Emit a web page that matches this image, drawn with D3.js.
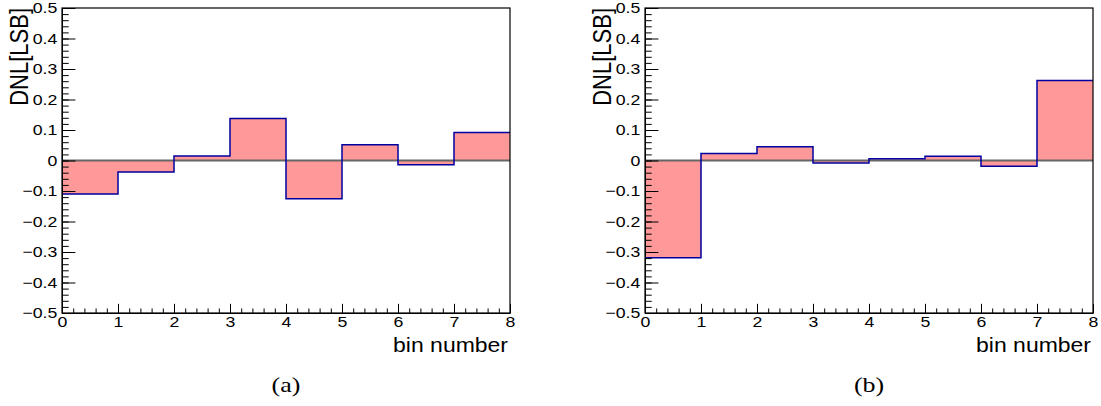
<!DOCTYPE html>
<html>
<head>
<meta charset="utf-8">
<script src="https://cdn.jsdelivr.net/npm/d3@7"></script>
<style>
  body { margin: 0; background: #ffffff; }
  svg { display: block; }
</style>
</head>
<body>
<div id="chart"></div>
<script>
// bins and DNL values
const bins = [0, 1, 2, 3, 4, 5, 6, 7];
const dnlA = [-0.110, -0.038, 0.015, 0.138, -0.125, 0.052, -0.014, 0.092];
const dnlB = [-0.319, 0.023, 0.045, -0.008, 0.006, 0.014, -0.019, 0.262];
const xTicks = [0, 1, 2, 3, 4, 5, 6, 7, 8];
const yTicks = [-0.5, -0.4, -0.3, -0.2, -0.1, 0, 0.1, 0.2, 0.3, 0.4, 0.5];
const panelLabels = ["(a)", "(b)"];

const width = 1101;
const height = 406;
// the original figure was stretched sideways, so its glyphs are wide
const stretch = 1.18;
const sans = "'Liberation Sans', Arial, sans-serif";
const serif = "'Liberation Serif', 'Times New Roman', serif";

const svg = d3.select("#chart")
    .append("svg")
    .attr("width", width)
    .attr("height", height);

// Title Styles the labels of an axis
function styleLabels(a) {
    a.attr("font-family", sans)
        .attr("font-size", 15);
    a.select(".domain").attr("stroke", "#000");
    a.selectAll(".tick text")
        .attr("fill", "#000")
        .style("font-family", sans)
        .style("font-size", "15px")
        .attr("transform", `scale(${stretch},1)`);
}

// Title Draws one DNL histogram panel
function drawPanel(left, values, label) {
    const plotW = 448;
    const top = 8;
    const bottom = 313;

    const x = d3.scaleLinear().domain([0, 8]).range([left, left + plotW]);
    const y = d3.scaleLinear().domain([-0.5, 0.5]).range([bottom, top]);

    const g = svg.append("g");

    // filled bins
    g.selectAll("rect.bin")
        .data(values)
        .enter()
        .append("rect")
        .attr("class", "bin")
        .attr("x", (d, i) => x(bins[i]))
        .attr("width", (d, i) => x(bins[i] + 1) - x(bins[i]))
        .attr("y", d => Math.min(y(d), y(0)))
        .attr("height", d => Math.abs(y(d) - y(0)))
        .attr("fill", "#ff9999");

    // zero line
    g.append("line")
        .attr("x1", x(0))
        .attr("x2", x(8))
        .attr("y1", y(0))
        .attr("y2", y(0))
        .attr("stroke", "#666666")
        .attr("stroke-width", 2);

    // histogram outline
    const pts = bins.map((b, i) => [b, values[i]]);
    pts.push([8, values[values.length - 1]]);

    const line = d3.line()
        .x(d => x(d[0]))
        .y(d => y(d[1]))
        .curve(d3.curveStepAfter);

    g.append("path")
        .attr("d", line(pts))
        .attr("fill", "none")
        .attr("stroke", "#0000a0")
        .attr("stroke-width", 1.5);

    // frame
    g.append("rect")
        .attr("x", x(0))
        .attr("y", top)
        .attr("width", plotW)
        .attr("height", bottom - top)
        .attr("fill", "none")
        .attr("stroke", "#000")
        .attr("stroke-width", 1.2);

    const yTickLen = plotW * 0.03;
    const xTickLen = (bottom - top) * 0.03;

    // y axis, minor then major
    g.append("g")
        .attr("transform", `translate(${x(0)},0)`)
        .call(d3.axisLeft(y)
            .tickValues(d3.range(-50, 51, 2).map(v => v / 100))
            .tickSize(-yTickLen / 2)
            .tickSizeOuter(0)
            .tickFormat(""))
        .call(a => a.select(".domain").remove());

    g.append("g")
        .attr("transform", `translate(${x(0)},0)`)
        .call(d3.axisLeft(y)
            .tickValues(yTicks)
            .tickSize(-yTickLen)
            .tickSizeOuter(0)
            .tickPadding(4)
            .tickFormat(d => d === 0 ? "0" : d3.format(".1f")(d)))
        .call(styleLabels);

    // x axis, minor then major
    g.append("g")
        .attr("transform", `translate(0,${bottom})`)
        .call(d3.axisBottom(x)
            .tickValues(d3.range(0, 41).map(v => v / 5))
            .tickSize(-xTickLen / 2)
            .tickSizeOuter(0)
            .tickFormat(""))
        .call(a => a.select(".domain").remove());

    g.append("g")
        .attr("transform", `translate(0,${bottom})`)
        .call(d3.axisBottom(x)
            .tickValues(xTicks)
            .tickSize(-xTickLen)
            .tickSizeOuter(0)
            .tickPadding(3)
            .tickFormat(d3.format("d")))
        .call(styleLabels);

    // axis titles
    g.append("text")
        .attr("font-family", sans)
        .attr("font-size", 20.5)
        .attr("transform", `translate(${x(8) - 2},352) scale(${stretch * 0.95},1)`)
        .attr("text-anchor", "end")
        .text("bin number");

    g.append("text")
        .attr("font-family", sans)
        .attr("font-size", 22)
        .attr("transform", `translate(${left - 34},${top}) scale(${stretch},1) rotate(-90)`)
        .attr("text-anchor", "end")
        .text("DNL[LSB]");

    g.append("text")
        .attr("font-family", serif)
        .attr("font-size", 22)
        .attr("transform", `translate(${left + plotW / 2},392) scale(${stretch},1)`)
        .attr("text-anchor", "middle")
        .text(label);
}

drawPanel(62, dnlA, panelLabels[0]);
drawPanel(645, dnlB, panelLabels[1]);
</script>
</body>
</html>
